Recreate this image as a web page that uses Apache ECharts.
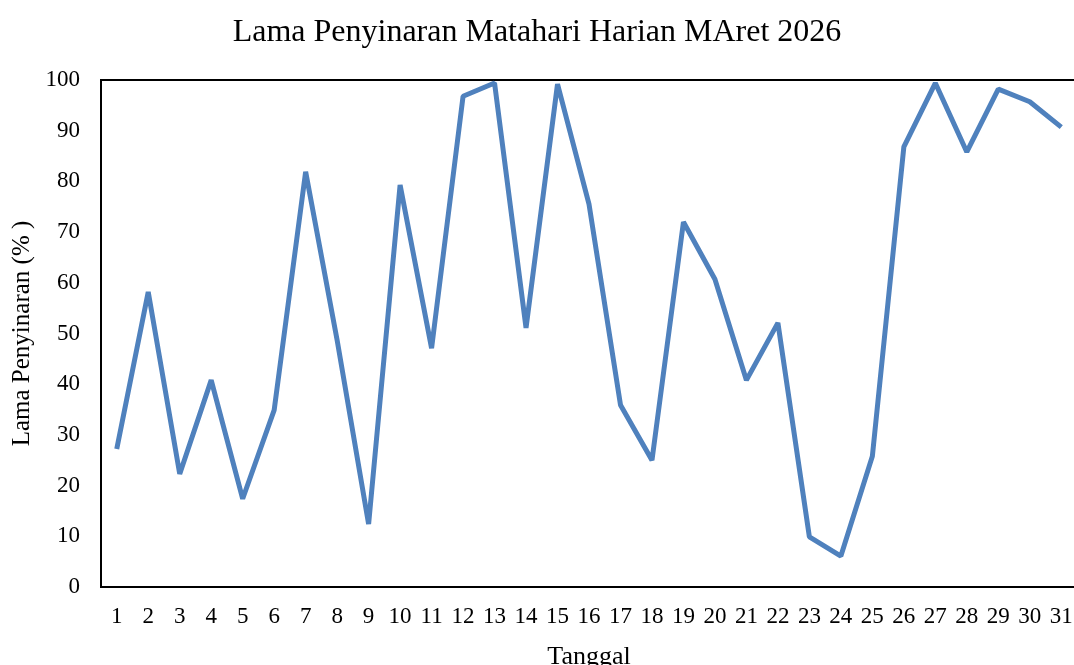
<!DOCTYPE html>
<html>
<head>
<meta charset="utf-8">
<style>
  html, body { margin: 0; padding: 0; background: #fff; }
  #chart { width: 1074px; height: 665px; }
</style>
<script src="https://cdn.jsdelivr.net/npm/echarts@6/dist/echarts.min.js"></script>
</head>
<body>
<div id="chart"></div>
<script>
// data
var tanggal = [];
for (var d = 1; d <= 31; d++) { tanggal.push(String(d)); }
var penyinaran = [27.2, 58.2, 22.3, 40.8, 17.4, 34.9, 81.9, 48.7, 12.4, 79.3,
                  47.1, 96.8, 99.4, 51.1, 99.2, 75.5, 35.9, 25.0, 72.0, 60.7,
                  40.8, 52.1, 9.9, 6.1, 25.8, 86.8, 99.4, 85.8, 98.2, 95.7, 90.7];

var fontSerif = '"Liberation Serif", "DejaVu Serif", serif';

var chart = echarts.init(document.getElementById('chart'));
var option = {
  animation: false,
  backgroundColor: '#fff',
  title: {
    text: 'Lama Penyinaran Matahari Harian MAret 2026',
    left: 'center',
    top: 12,
    textStyle: { fontFamily: fontSerif, fontSize: 32, fontWeight: 'normal', color: '#000' }
  },
  grid: {
    left: 101,
    top: 80,
    width: 976,
    height: 507,
    show: true,
    borderColor: '#000',
    borderWidth: 2,
    containLabel: false,
    outerBoundsMode: 'none'
  },
  xAxis: {
    type: 'category',
    data: tanggal,
    boundaryGap: true,
    name: 'Tanggal',
    nameLocation: 'middle',
    nameGap: 57,
    nameTextStyle: { fontFamily: fontSerif, fontSize: 26, color: '#000' },
    axisLine: { lineStyle: { color: '#000', width: 2 } },
    axisTick: { show: false },
    axisLabel: { fontFamily: fontSerif, fontSize: 23, color: '#000', margin: 18, interval: 0 }
  },
  yAxis: {
    type: 'value',
    min: 0,
    max: 100,
    interval: 10,
    name: 'Lama Penyinaran (% )',
    nameLocation: 'middle',
    nameGap: 65,
    nameTextStyle: { fontFamily: fontSerif, fontSize: 25, color: '#000' },
    axisLine: { show: true, lineStyle: { color: '#000', width: 2 } },
    axisTick: { show: false },
    splitLine: { show: false },
    axisLabel: { fontFamily: fontSerif, fontSize: 23, color: '#000', margin: 21 }
  },
  series: [{
    type: 'line',
    data: penyinaran,
    symbol: 'none',
    lineStyle: { color: '#4F81BD', width: 5 },
    itemStyle: { color: '#4F81BD' }
  }]
};
chart.setOption(option);
</script>
</body>
</html>
